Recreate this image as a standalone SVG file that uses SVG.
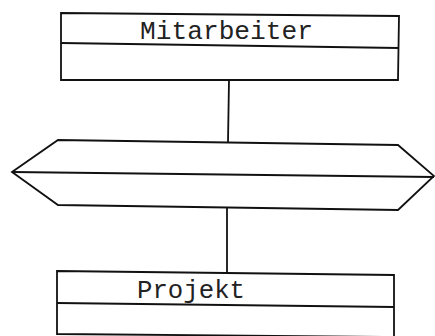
<svg xmlns="http://www.w3.org/2000/svg" width="435" height="336" viewBox="0 0 435 336">
<style>
.s{fill:none;stroke:#111;stroke-width:1.8;stroke-linejoin:miter}
.t{font-family:"Liberation Mono","DejaVu Sans Mono",monospace;font-size:25px;fill:#222}
</style>
<rect width="435" height="336" fill="#fff"/>
<g id="connectors">
<line class="s" x1="229" y1="80" x2="228" y2="142"/>
<line class="s" x1="227" y1="207" x2="227" y2="273"/>
</g>
<g id="mitarbeiter">
<polygon class="s" points="61,13 399,16 398,80 61,80"/>
<line class="s" x1="61" y1="43" x2="399" y2="48"/>
<text class="t" x="140" y="39" textLength="173" lengthAdjust="spacingAndGlyphs">Mitarbeiter</text>
</g>
<g id="relationship">
<polygon class="s" points="12,172 58,140 398,145 434,176 398,210 58,205"/>
<line class="s" x1="12" y1="172" x2="434" y2="177"/>
</g>
<g id="projekt">
<polygon class="s" points="57,271 394,275 394,337 57,334"/>
<line class="s" x1="57" y1="303" x2="394" y2="307"/>
<text class="t" x="137" y="298" textLength="108" lengthAdjust="spacingAndGlyphs">Projekt</text>
</g>
</svg>
